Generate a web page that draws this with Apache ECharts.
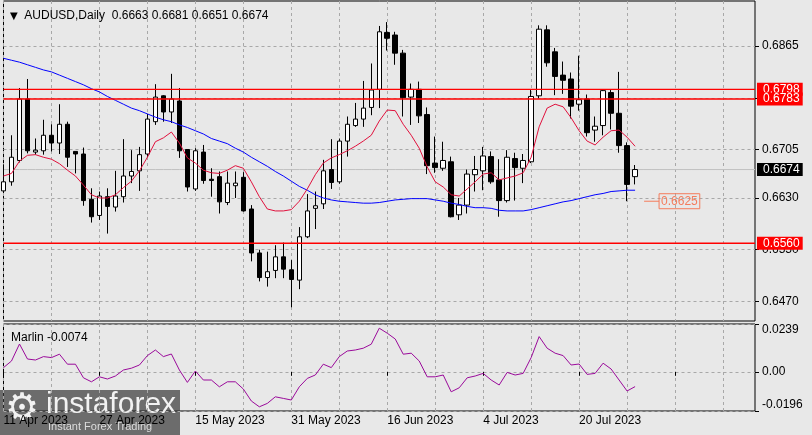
<!DOCTYPE html>
<html>
<head>
<meta charset="utf-8">
<script src="https://cdn.jsdelivr.net/npm/echarts@6/dist/echarts.min.js"></script>
<style>
html,body{margin:0;padding:0;background:#e8e8e8;}
#c{width:812px;height:435px;}
</style>
</head>
<body>
<div id="c"></div>
<script>
const dates = ['11 Apr 2023','12 Apr 2023','13 Apr 2023','14 Apr 2023','17 Apr 2023','18 Apr 2023','19 Apr 2023','20 Apr 2023','21 Apr 2023','24 Apr 2023','25 Apr 2023','26 Apr 2023','27 Apr 2023','28 Apr 2023',
'1 May 2023','2 May 2023','3 May 2023','4 May 2023','5 May 2023','8 May 2023','9 May 2023','10 May 2023','11 May 2023','12 May 2023','15 May 2023','16 May 2023','17 May 2023','18 May 2023','19 May 2023','22 May 2023','23 May 2023','24 May 2023','25 May 2023','26 May 2023','29 May 2023','30 May 2023','31 May 2023',
'1 Jun 2023','2 Jun 2023','5 Jun 2023','6 Jun 2023','7 Jun 2023','8 Jun 2023','9 Jun 2023','12 Jun 2023','13 Jun 2023','14 Jun 2023','15 Jun 2023','16 Jun 2023','19 Jun 2023','20 Jun 2023','21 Jun 2023','22 Jun 2023','23 Jun 2023','26 Jun 2023','27 Jun 2023','28 Jun 2023','29 Jun 2023','30 Jun 2023',
'3 Jul 2023','4 Jul 2023','5 Jul 2023','6 Jul 2023','7 Jul 2023','10 Jul 2023','11 Jul 2023','12 Jul 2023','13 Jul 2023','14 Jul 2023','17 Jul 2023','18 Jul 2023','19 Jul 2023','20 Jul 2023','21 Jul 2023','24 Jul 2023','25 Jul 2023','26 Jul 2023','27 Jul 2023','28 Jul 2023','31 Jul 2023'];

const open  = [0.6641,0.6655,0.6688,0.6783,0.6701,0.6703,0.6727,0.6715,0.6744,0.6702,0.6698,0.6628,0.6603,0.6632,0.6616,0.6632,0.6664,0.6672,0.6698,0.6748,0.6788,0.6763,0.6780,0.6705,0.6644,0.6701,0.6659,0.6663,0.6623,0.6649,0.6662,0.6613,0.6545,0.6507,0.6518,0.6539,0.6519,0.6503,0.6570,0.6614,0.6621,0.6674,0.6655,0.6718,0.6742,0.6752,0.6770,0.6798,0.6886,0.6882,0.6854,0.6786,0.6798,0.6759,0.6684,0.6676,0.6686,0.6604,0.6619,0.6666,0.6672,0.6694,0.6658,0.6626,0.6691,0.6676,0.6686,0.6788,0.6890,0.6856,0.6820,0.6814,0.6775,0.6783,0.6735,0.6742,0.6793,0.6761,0.6711,0.6663];
const close = [0.6655,0.6693,0.6783,0.6703,0.6704,0.6727,0.6715,0.6744,0.6693,0.6698,0.6626,0.6601,0.6633,0.6617,0.6633,0.6664,0.6671,0.6697,0.6752,0.6786,0.6763,0.6783,0.6703,0.6647,0.6703,0.6657,0.6657,0.6624,0.6653,0.6653,0.6610,0.6545,0.6507,0.6516,0.6539,0.6520,0.6504,0.6570,0.6610,0.6618,0.6672,0.6654,0.6718,0.6744,0.6752,0.6769,0.6797,0.6887,0.6877,0.6854,0.6785,0.6798,0.6757,0.6680,0.6677,0.6688,0.6601,0.6619,0.6667,0.6674,0.6695,0.6655,0.6626,0.6693,0.6677,0.6688,0.6787,0.6891,0.6839,0.6818,0.6812,0.6772,0.6782,0.6731,0.6741,0.6796,0.6761,0.6711,0.6651,0.6674];
const high  = [0.6682,0.6727,0.6800,0.6814,0.6722,0.6751,0.6744,0.6775,0.6748,0.6702,0.6708,0.6645,0.6640,0.6645,0.6672,0.6721,0.6704,0.6709,0.6760,0.6806,0.6789,0.6822,0.6800,0.6705,0.6707,0.6712,0.6676,0.6671,0.6671,0.6671,0.6670,0.6619,0.6550,0.6547,0.6557,0.6561,0.6534,0.6585,0.6636,0.6640,0.6689,0.6721,0.6722,0.6756,0.6777,0.6811,0.6838,0.6896,0.6902,0.6887,0.6859,0.6807,0.6810,0.6770,0.6725,0.6717,0.6694,0.6630,0.6674,0.6695,0.6709,0.6702,0.6690,0.6704,0.6700,0.6698,0.6798,0.6897,0.6897,0.6862,0.6841,0.6824,0.6850,0.6790,0.6756,0.6797,0.6798,0.6825,0.6716,0.6681];
const low   = [0.6638,0.6649,0.6685,0.6699,0.6697,0.6697,0.6702,0.6698,0.6678,0.6668,0.6618,0.6592,0.6596,0.6575,0.6609,0.6623,0.6653,0.6641,0.6693,0.6743,0.6748,0.6746,0.6692,0.6640,0.6641,0.6652,0.6632,0.6606,0.6619,0.6630,0.6609,0.6532,0.6501,0.6493,0.6506,0.6506,0.6461,0.6489,0.6568,0.6582,0.6613,0.6644,0.6652,0.6694,0.6740,0.6740,0.6758,0.6769,0.6858,0.6836,0.6756,0.6743,0.6746,0.6667,0.6669,0.6672,0.6600,0.6596,0.6606,0.6640,0.6642,0.6652,0.6601,0.6623,0.6626,0.6653,0.6684,0.6784,0.6833,0.6789,0.6791,0.6753,0.6765,0.6725,0.6717,0.6727,0.6736,0.6700,0.6625,0.6651];

const maFast = [0.6664,0.6668,0.6687,0.6696,0.6697,0.6693,0.6690,0.6683,0.6673,0.6664,0.6650,0.6635,0.6630,0.6630,0.6635,0.6646,0.6656,0.6672,0.6693,0.6717,0.6723,0.6732,0.6715,0.6692,0.6684,0.6673,0.6669,0.6668,0.6673,0.6680,0.6676,0.6655,0.6632,0.6613,0.6610,0.6610,0.6612,0.6625,0.6644,0.6666,0.6684,0.6692,0.6697,0.6703,0.6710,0.6718,0.6727,0.6749,0.6766,0.6765,0.6744,0.6727,0.6707,0.6678,0.6655,0.6647,0.6635,0.6633,0.6644,0.6655,0.6667,0.6669,0.6658,0.6661,0.6664,0.6669,0.6693,0.6740,0.6769,0.6775,0.6771,0.6754,0.6734,0.6718,0.6712,0.6724,0.6734,0.6735,0.6724,0.6710];
const maSlow = [0.6846,0.6843,0.6840,0.6836,0.6832,0.6828,0.6825,0.6820,0.6815,0.6810,0.6805,0.6799,0.6794,0.6787,0.6781,0.6775,0.6769,0.6765,0.6760,0.6755,0.6751,0.6748,0.6743,0.6739,0.6734,0.6729,0.6722,0.6718,0.6714,0.6707,0.6701,0.6693,0.6686,0.6679,0.6671,0.6664,0.6656,0.6648,0.6642,0.6635,0.6630,0.6627,0.6625,0.6624,0.6623,0.6622,0.6622,0.6623,0.6625,0.6627,0.6628,0.6629,0.6629,0.6629,0.6627,0.6625,0.6622,0.6620,0.6617,0.6615,0.6615,0.6614,0.6611,0.6610,0.6610,0.6610,0.6612,0.6615,0.6618,0.6621,0.6624,0.6626,0.6629,0.6632,0.6635,0.6637,0.6640,0.6641,0.6642,0.6642];
const marlin = [0.0021,0.0054,0.0139,0.0064,0.0059,0.0076,0.0071,0.0088,0.0038,0.0038,-0.0030,-0.0050,-0.0025,-0.0036,-0.0021,0.0009,0.0018,0.0034,0.0081,0.0109,0.0076,0.0089,0.0009,-0.0053,0.0004,-0.0041,-0.0041,-0.0075,-0.0050,-0.0050,-0.0086,-0.0146,-0.0175,-0.0158,-0.0125,-0.0133,-0.0141,-0.0075,-0.0033,-0.0016,0.0038,0.0021,0.0076,0.0104,0.0109,0.0118,0.0138,0.0218,0.0193,0.0164,0.0088,0.0093,0.0054,-0.0025,-0.0025,-0.0016,-0.0100,-0.0080,-0.0030,-0.0021,-0.0008,-0.0041,-0.0066,-0.0003,-0.0016,-0.0008,0.0071,0.0176,0.0118,0.0093,0.0081,0.0034,0.0039,-0.0013,-0.0008,0.0043,0.0014,-0.0041,-0.0096,-0.0074];

const levels = [0.6798, 0.6783, 0.6560];
const lastPrice = 0.6674;
const lowMark = 0.6625;
const priceTicks = [0.6865, 0.6785, 0.6705, 0.6630, 0.6550, 0.6470];
const marlinTicks = [0.0239, 0, -0.0196];
const futureSlots = 15;

const FONT = 'Liberation Sans, DejaVu Sans, sans-serif';
const GRIDC = '#a8a8a8';
const RED = '#ff0000';
const CORAL = '#f47c5c';
const cats = dates.concat(Array.from({length: futureSlots}, (_, k) => 'f' + k));
const candle = dates.map((d, i) => [open[i], close[i], low[i], high[i]]);
const n = dates.length - 1;

const chart = echarts.init(document.getElementById('c'));

// horizontal price line drawn as a flat line series over the full category range
const hLine = (v, color, bg, z, w) => ({
  type: 'line', xAxisIndex: 0, yAxisIndex: 0, data: cats.map(() => v), symbol: 'none',
  clip: true, z: z, silent: true, lineStyle: {color: color, width: w, type: 'solid'},
  emphasis: {disabled: true},
  endLabel: {show: true, distance: 2, formatter: () => v.toFixed(4),
    backgroundColor: bg, color: '#ffffff', fontFamily: FONT, fontSize: 12, lineHeight: 13, padding: [0, 3, 0, 6]}
});

const xBase = {
  type: 'category', data: cats, boundaryGap: false,
  axisLine: {show: false},
  splitLine: {show: true, interval: 5, lineStyle: {color: GRIDC, type: [3, 3], width: 1}}
};

chart.setOption({
  animation: false,
  backgroundColor: '#e8e8e8',
  title: [
    {left: 5, top: 5, text: '{t|▼}  AUDUSD,Daily  ' + [open[n], high[n], low[n], close[n]].map(v => v.toFixed(4)).join(' '),
      textStyle: {fontFamily: FONT, fontSize: 12, fontWeight: 'normal', color: '#000',
        rich: {t: {fontFamily: 'DejaVu Sans', fontSize: 10, color: '#000'}}}},
    {left: 6, top: 327, text: 'Marlin ' + marlin[n].toFixed(4),
      textStyle: {fontFamily: FONT, fontSize: 12, fontWeight: 'normal', color: '#000'}}
  ],
  grid: [
    {left: 3.5, right: 57, top: 1, height: 320, show: true, borderColor: '#000', borderWidth: 1, backgroundColor: 'transparent', outerBoundsMode: 'none', containLabel: false},
    {left: 3.5, right: 57, top: 324, height: 87, show: true, borderColor: '#000', borderWidth: 1, backgroundColor: 'transparent', outerBoundsMode: 'none', containLabel: false}
  ],
  xAxis: [
    Object.assign({}, xBase, {gridIndex: 0, axisTick: {show: false}, axisLabel: {show: false}}),
    Object.assign({}, xBase, {gridIndex: 1,
      axisTick: {show: true, interval: 11, length: 4, lineStyle: {color: '#000'}},
      axisLabel: {show: true, interval: 11, align: 'left', margin: 4, color: '#000', fontFamily: FONT, fontSize: 12,
        formatter: v => (v.charAt(0) === 'f' ? '' : v)}})
  ],
  yAxis: [
    {type: 'value', gridIndex: 0, position: 'right', min: 0.64398, max: 0.69346,
      axisLine: {show: false},
      axisTick: {show: true, length: 4, customValues: priceTicks, lineStyle: {color: '#000'}},
      axisLabel: {show: true, customValues: priceTicks, margin: 7, color: '#000', fontFamily: FONT, fontSize: 12,
        formatter: v => v.toFixed(4)},
      splitLine: {show: true, lineStyle: {color: GRIDC, type: [3, 3], width: 1}}},
    {type: 'value', gridIndex: 1, position: 'right', min: -0.0196, max: 0.0239,
      axisLine: {show: false},
      axisTick: {show: true, length: 4, customValues: marlinTicks, lineStyle: {color: '#000'}},
      axisLabel: {show: true, customValues: marlinTicks, margin: 7, color: '#000', fontFamily: FONT, fontSize: 12,
        verticalAlignMaxLabel: 'bottom', verticalAlignMinLabel: 'top',
        formatter: v => (v === 0 ? '0.00' : v.toFixed(4))},
      splitLine: {show: true, lineStyle: {color: GRIDC, type: [3, 3], width: 1}}}
  ],
  series: [
    hLine(lastPrice, '#c0c0c0', '#000000', 1, 1),
    {type: 'candlestick', xAxisIndex: 0, yAxisIndex: 0, data: candle, barWidth: 5, clip: true,
      itemStyle: {color: '#ffffff', color0: '#000000', borderColor: '#000000', borderColor0: '#000000', borderWidth: 1},
      markPoint: {symbol: 'rect', symbolSize: 0, silent: true, animation: false,
        data: [{coord: [80, lowMark], value: lowMark}],
        label: {show: true, position: 'right', distance: 1, formatter: '{d| }{b|' + lowMark.toFixed(4) + '}',
          rich: {
            d: {width: 15, height: 1, lineHeight: 1, fontSize: 1, backgroundColor: CORAL, verticalAlign: 'middle'},
            b: {color: CORAL, borderColor: CORAL, borderWidth: 1, padding: [2, 2, 1, 2], fontFamily: FONT, fontSize: 12, verticalAlign: 'middle'}
          }}}
    },
    {type: 'line', xAxisIndex: 0, yAxisIndex: 0, data: maSlow, symbol: 'none', clip: true,
      lineStyle: {color: '#0000ff', width: 1}},
    {type: 'line', xAxisIndex: 0, yAxisIndex: 0, data: maFast, symbol: 'none', clip: true,
      lineStyle: {color: '#e0103c', width: 1}},
    hLine(levels[0], RED, RED, 5, 1.4),
    hLine(levels[1], RED, RED, 6, 1.4),
    hLine(levels[2], RED, RED, 5, 1.4),
    {type: 'line', xAxisIndex: 1, yAxisIndex: 1, data: marlin, symbol: 'none', clip: true,
      lineStyle: {color: '#9a0a9a', width: 1}}
  ],
  graphic: [
    {type: 'group', left: 0, top: 390, children: [
      {type: 'rect', shape: {x: 0, y: 0, width: 180, height: 45}, style: {fill: 'rgba(55,55,55,0.7)'}},
      {type: 'text', x: 5, y: 1, style: {text: '⚙', fontFamily: 'DejaVu Sans', fontSize: 38, fill: '#f2f2f2'}},
      {type: 'text', x: 46, y: 0, style: {text: 'instaforex', fontFamily: FONT, fontSize: 30, fill: '#f2f2f2'}},
      {type: 'text', x: 48, y: 31, style: {text: 'Instant Forex Trading', fontFamily: FONT, fontSize: 11, fill: '#dcdcdc'}}
    ]}
  ]
});
</script>
</body>
</html>
